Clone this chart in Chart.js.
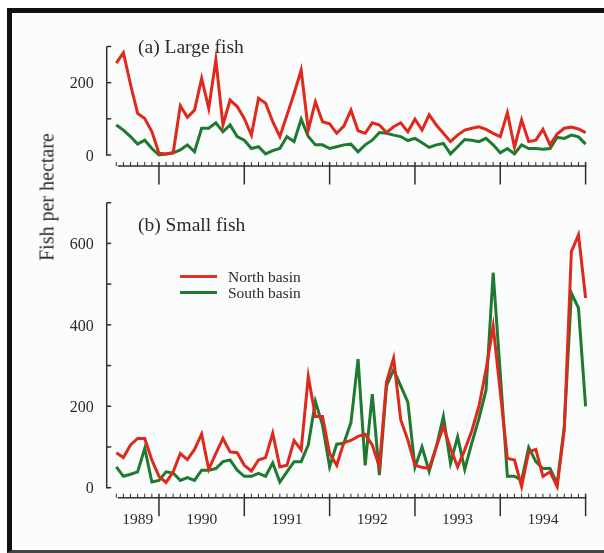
<!DOCTYPE html>
<html>
<head>
<meta charset="utf-8">
<script src="https://cdn.jsdelivr.net/npm/chart.js"></script>
<style>
  html, body { margin: 0; padding: 0; background: #ffffff; }
  #page { position: relative; width: 604px; height: 553px; overflow: hidden; font-family: "Liberation Serif", "DejaVu Serif", serif; color: #2a2a2a; }
  #frame { position: absolute; left: 7px; top: 8px; width: 620px; height: 537px; border-top: 5px solid #111; border-left: 5px solid #111; border-bottom: 3px solid #444; background: #fbfdfd; }
  canvas { position: absolute; left: 0; top: 0; }
  .txt { position: absolute; white-space: nowrap; }
  .sw { position: absolute; height: 3px; }
</style>
</head>
<body>
<div id="page">
  <div id="frame"></div>
  <canvas id="cA" width="604" height="553"></canvas>
  <canvas id="cB" width="604" height="553"></canvas>
  <div class="txt" style="left:138px; top:36px; font-size:19.5px; line-height:21px;">(a) Large fish</div>
  <div class="txt" style="left:138px; top:214px; font-size:19.5px; line-height:21px;">(b) Small fish</div>
  <div class="txt" style="left:47px; top:197px; font-size:20px; transform:translate(-50%,-50%) rotate(-90deg);">Fish per hectare</div>
  <div class="sw" style="left:180px; top:275px; width:37px; background:#e0321e;"></div>
  <div class="sw" style="left:180px; top:291px; width:37px; background:#1f7a30;"></div>
  <div class="txt" style="left:228px; top:268px; font-size:15.5px; line-height:18px;">North basin</div>
  <div class="txt" style="left:228px; top:284px; font-size:15.5px; line-height:18px;">South basin</div>
</div>
<script>
// ---- data ----
const months = [
  "1989-07","1989-08","1989-09","1989-10","1989-11","1989-12",
  "1990-01","1990-02","1990-03","1990-04","1990-05","1990-06","1990-07","1990-08","1990-09","1990-10","1990-11","1990-12",
  "1991-01","1991-02","1991-03","1991-04","1991-05","1991-06","1991-07","1991-08","1991-09","1991-10","1991-11","1991-12",
  "1992-01","1992-02","1992-03","1992-04","1992-05","1992-06","1992-07","1992-08","1992-09","1992-10","1992-11","1992-12",
  "1993-01","1993-02","1993-03","1993-04","1993-05","1993-06","1993-07","1993-08","1993-09","1993-10","1993-11","1993-12",
  "1994-01","1994-02","1994-03","1994-04","1994-05","1994-06","1994-07","1994-08","1994-09","1994-10","1994-11","1994-12",
  "1995-01"
];
const yearLabels = ["1989","1990","1991","1992","1993","1994"];

const northLarge = [254,283,195,115,101,65,5,3,6,136,
  104,124,212,129,263,83,152,134,101,55,
  157,143,92,51,110,170,235,69,147,92,
  86,60,80,124,67,60,89,83,62,78,
  89,64,99,69,111,83,60,37,55,69,
  74,78,71,60,51,117,21,97,37,41,
  71,28,58,74,77,72,62];
const southLarge = [83,69,51,30,41,18,0,3,6,14,
  28,9,74,74,89,64,83,51,41,18,
  23,3,12,18,51,37,99,51,28,28,
  18,23,28,30,9,28,41,62,60,55,
  51,40,46,34,21,28,32,3,23,43,
  41,37,46,28,6,18,3,28,18,18,
  16,18,49,46,55,50,30];
const northSmall = [86,74,105,121,121,68,28,13,39,84,
  69,94,132,45,84,121,88,86,55,41,
  68,74,134,51,55,116,93,273,175,175,
  84,55,111,116,126,131,105,51,260,318,
  167,117,55,50,47,100,150,97,51,93,
  140,200,290,397,235,72,68,3,88,94,
  28,39,3,142,580,621,466];
const southSmall = [51,28,33,39,97,14,18,39,36,18,
  25,18,43,43,47,64,68,43,28,28,
  35,28,61,14,39,64,64,105,212,154,
  51,107,109,160,316,55,230,31,250,290,
  250,210,50,100,40,100,175,60,125,45,
  110,170,240,528,280,28,28,18,99,64,
  47,47,10,150,478,441,200];

const largeTickLabels = [0, 200];
const smallTickLabels = [0, 200, 400, 600];

const RED = '#e0281c';
const GREEN = '#1d7a30';
const AXIS = '#2e2e2e';

const rangeAxes = {
  id: 'rangeAxes',
  afterDraw(chart, args, opts) {
    const { ctx, chartArea, scales } = chart;
    const x = scales.x, y = scales.y;
    ctx.save();
    ctx.strokeStyle = AXIS;
    ctx.fillStyle = '#2a2a2a';
    ctx.lineWidth = 1.5;
    const seg = (x1, y1, x2, y2) => { ctx.beginPath(); ctx.moveTo(x1, y1); ctx.lineTo(x2, y2); ctx.stroke(); };
    // y axis (detached)
    const ax = chartArea.left - 9.6;
    const y0 = y.getPixelForValue(0);
    const yTop = y.getPixelForValue(opts.max);
    seg(ax, yTop, ax, y0 + 0.75);
    for (let v = 0; v <= opts.max; v += 100) {
      const py = y.getPixelForValue(v);
      seg(ax, py, ax + 4.5, py);
    }
    ctx.font = '16px "Liberation Serif", serif';
    ctx.textAlign = 'right';
    ctx.textBaseline = 'middle';
    opts.labels.forEach(v => ctx.fillText(String(v), ax - 13, y.getPixelForValue(v) + 1.5));
    // x axis (detached)
    const xa = y0 + opts.gap;
    const xEnd = x.getPixelForValue(months.length - 1);
    seg(x.getPixelForValue(0) + 1.5, xa, xEnd + 0.75, xa);
    const majors = [0];
    months.forEach((m, i) => {
      const px = x.getPixelForValue(i);
      if (m.endsWith('-01')) { majors.push(i); seg(px, xa - 4, px, xa + 18.5); }
      else { ctx.lineWidth = 1; seg(px, xa, px, xa - 4); ctx.lineWidth = 1.5; }
    });
    if (opts.years) {
      ctx.font = '15.5px "Liberation Serif", serif';
      ctx.textAlign = 'center';
      yearLabels.forEach((lab, k) => {
        const cx = (x.getPixelForValue(majors[k]) + x.getPixelForValue(majors[k + 1])) / 2;
        ctx.fillText(lab, cx, xa + 22);
      });
    }
    ctx.restore();
  }
};

function makeChart(id, north, south, ymax, pad, tickLabels, gap, years) {
  return new Chart(document.getElementById(id), {
    type: 'line',
    data: {
      labels: months,
      datasets: [
        { label: 'North basin', data: north, borderColor: RED, borderWidth: 3, pointRadius: 0, tension: 0, clip: 6, fill: false },
        { label: 'South basin', data: south, borderColor: GREEN, borderWidth: 3, pointRadius: 0, tension: 0, clip: 6, fill: false }
      ]
    },
    options: {
      responsive: false,
      animation: false,
      devicePixelRatio: 1,
      layout: { padding: pad },
      scales: {
        x: { type: 'category', display: false, offset: false },
        y: { type: 'linear', display: false, min: 0, max: ymax }
      },
      plugins: {
        legend: { display: false },
        tooltip: { enabled: false },
        rangeAxes: { max: ymax, labels: tickLabels, gap: gap, years: years }
      }
    },
    plugins: [rangeAxes]
  });
}

makeChart('cA', northLarge, southLarge, 300,
  { left: 116.3, right: 18.4, top: 46.5, bottom: 398 }, largeTickLabels, 11, false);
makeChart('cB', northSmall, southSmall, 700,
  { left: 116.3, right: 18.4, top: 202.7, bottom: 65.3 }, smallTickLabels, 10, true);
</script>
</body>
</html>
